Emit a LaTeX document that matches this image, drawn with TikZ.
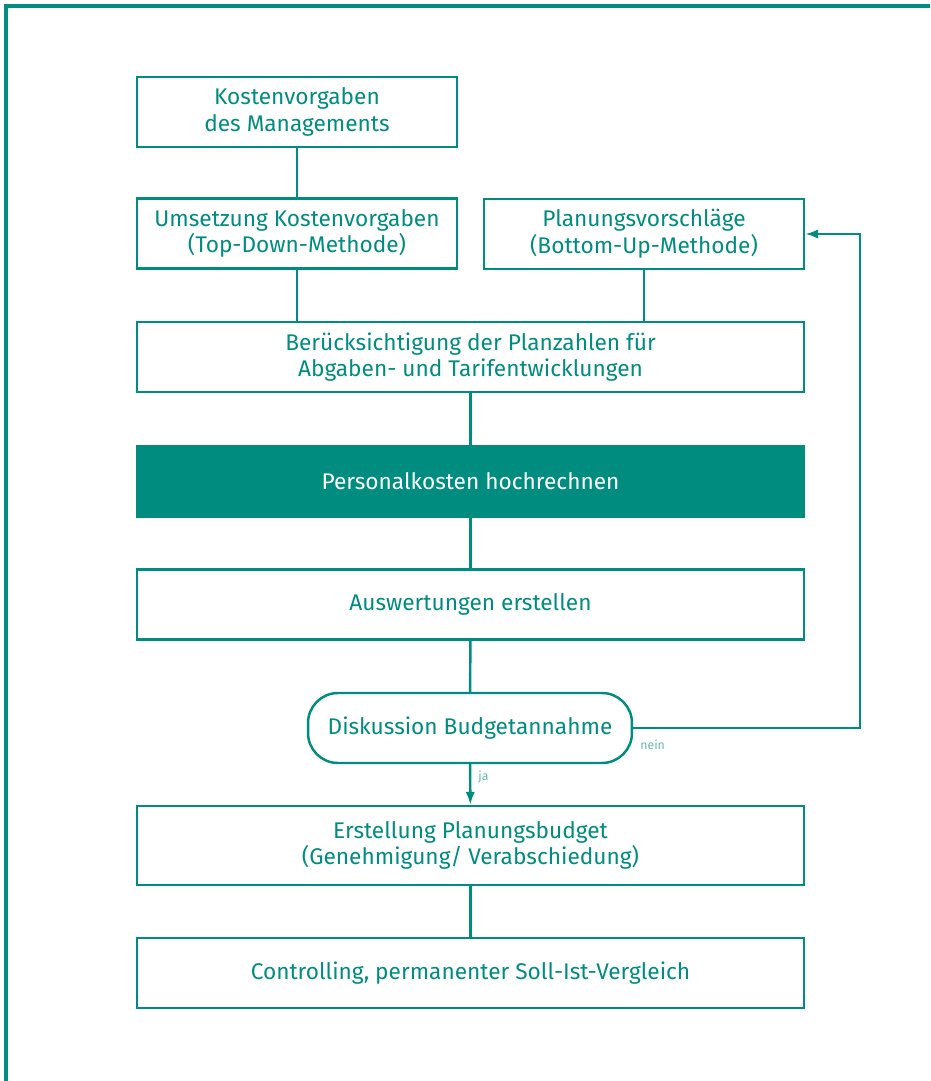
\documentclass[tikz,border=0pt]{standalone}
\usepackage{fontspec}
\setmainfont{Fira Sans}
\usepackage{xcolor}
\usepackage{tikz}
\usetikzlibrary{positioning, shapes, calc, arrows, arrows.meta}

\definecolor{petrol}{RGB}{0,140,126}
\definecolor{petrollight}{RGB}{100,185,175}

\begin{document}
\begin{tikzpicture}[x=0.02cm, y=-0.02cm, every node/.style={font=\fontsize{12.9}{15.2}\selectfont}]
	\tikzstyle{procbox}=[rectangle, draw=petrol, line width=1.4pt, text=petrol, align=center, minimum height=1.4cm, inner sep=0pt]
	\tikzstyle{smallbox}=[procbox, minimum width=6.4cm]
	\tikzstyle{widebox}=[procbox, minimum width=13.34cm]
	\tikzstyle{keybox}=[widebox, fill=petrol, text=white]
	\tikzstyle{decision}=[procbox, rounded corners=0.6cm, minimum width=6.48cm]
	\tikzstyle{answer}=[text=petrollight, font=\fontsize{7}{8}\selectfont, inner sep=0pt]
	\tikzstyle{conn}=[draw=petrol, line width=1.4pt]
	\tikzstyle{tip}=[-{Latex[length=2.6mm, width=1.9mm]}]
	
	\useasboundingbox (0,0) rectangle (930,1081);
	\draw[petrol, line width=0.075cm] (6,1081) -- (6,6) -- (930,6);
	
	\node (k1) at (297,112) [smallbox] {Kostenvorgaben\\des Managements};
	\node (k2) at (297,233.5) [smallbox] {Umsetzung Kostenvorgaben\\(Top-Down-Methode)};
	\node (k3) at (644,234) [smallbox] {Planungsvorschläge\\(Bottom-Up-Methode)};
	
	\node (k4) at (470.5,357) [widebox] {Berücksichtigung der Planzahlen für\\Abgaben- und Tarifentwicklungen};
	\node (k5) at (470.5,481.5) [keybox] {Personalkosten hochrechnen};
	\node (k6) at (470.5,604.5) [widebox] {Auswertungen erstellen};
	
	\node (d) at (470,728) [decision] {Diskussion Budgetannahme};
	
	\node (k7) at (470.5,845.5) [widebox, minimum height=1.58cm] {Erstellung Planungsbudget\\(Genehmigung/ Verabschiedung)};
	\node (k8) at (470.5,973) [widebox] {Controlling, permanenter Soll-Ist-Vergleich};
	
	\draw[conn] (k1) -- (k2);
	\draw[conn] (k2.south) -- (k2.south |- k4.north);
	\draw[conn] (k3.south) -- (k3.south |- k4.north);
	\draw[conn] (k4) -- (k5);
	\draw[conn] (k5) -- (k6);
	\draw[conn] (k6) -- (d);
	\draw[conn, tip] (d) -- (k7);
	\draw[conn] (k7) -- (k8);
	
	% nein: back to the planning proposals
	\coordinate (back) at (860,480);
	\draw[conn, tip] (d.east) -- (d.east -| back) -- (back |- k3.east) -- (k3.east);
	
	\node (lnein) at (640,745) [answer, anchor=west] {nein};
	\node (lja) at (478,777) [answer, anchor=west] {ja};
\end{tikzpicture}
\end{document}
